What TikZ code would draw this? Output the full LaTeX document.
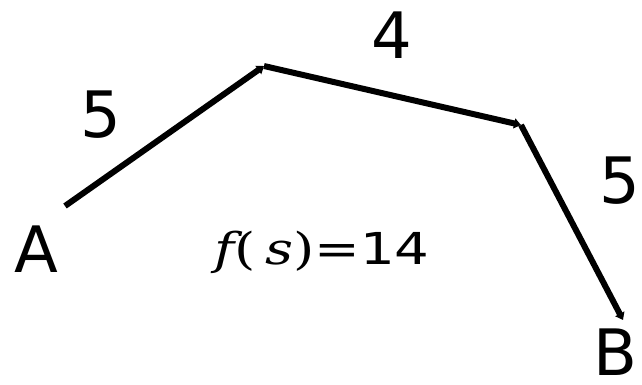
\documentclass[tikz,border=0pt]{standalone}
\usepackage{fontspec}
\usepackage{graphicx}
\setmainfont{DejaVu Sans}
\newfontfamily\dvserif{DejaVu Serif}
\usetikzlibrary{arrows.meta}
\begin{document}
\begin{tikzpicture}[x=1pt, y=-1pt,
            leg/.style={line width=6pt, -{Triangle[length=7pt, width=10pt]}},
            lbl/.style={inner sep=0pt, font=\fontsize{64}{70}\selectfont},
            cost/.style={inner sep=0pt, font=\fontsize{44}{50}\selectfont}
        ]
            \useasboundingbox (0, 0) rectangle (642, 384);
            \coordinate (a) at (65, 206);
            \coordinate (p) at (264, 66);
            \coordinate (q) at (521, 125);
            \coordinate (b) at (623, 320);
            \draw[leg] (a) -- (p);
            \draw[leg] (p) -- (q);
            \draw[leg] (q) -- (b);
            \node[lbl] (la) at (36, 249) {A};
            \node[lbl] (lb) at (615, 352) {B};
            \node[lbl] (w1) at (101, 115) {5};
            \node[lbl] (w2) at (392, 35) {4};
            \node[lbl] (w3) at (620, 181) {5};
            \node[cost, anchor=base] (total) at (322, 264)
                {\scalebox{1.24}[1]{{\dvserif\itshape f}{\dvserif(}\,{\dvserif\itshape s}{\dvserif)}=14}};
        \end{tikzpicture}
\end{document}
